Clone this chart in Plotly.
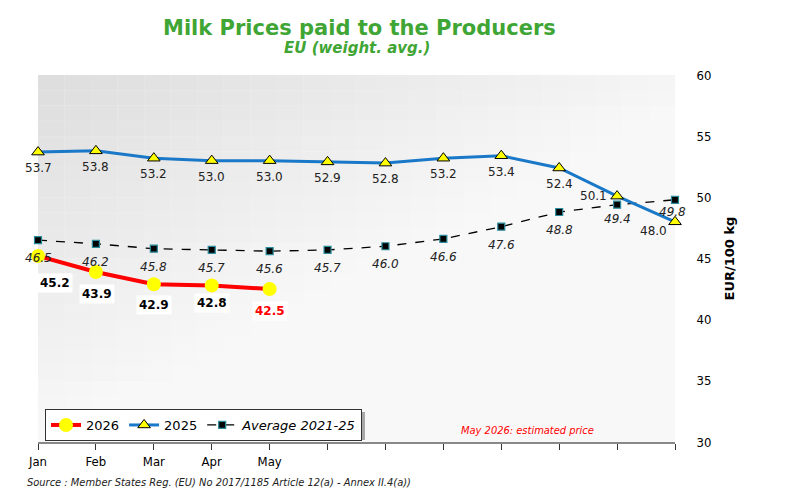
import plotly.graph_objects as go

months = ["Jan", "Feb", "Mar", "Apr", "May", "Jun", "Jul", "Aug", "Sep", "Oct", "Nov", "Dec"]
tick_labels = ["Jan", "Feb", "Mar", "Apr", "May", "", "", "", "", "", "", ""]
y2026 = [45.2, 43.9, 42.9, 42.8, 42.5]
y2025 = [53.7, 53.8, 53.2, 53.0, 53.0, 52.9, 52.8, 53.2, 53.4, 52.4, 50.1, 48.0]
yavg = [46.5, 46.2, 45.8, 45.7, 45.6, 45.7, 46.0, 46.6, 47.6, 48.8, 49.4, 49.8]

COND = "DejaVu Sans Condensed, Liberation Sans Narrow, sans-serif"
SANS = "DejaVu Sans, Verdana, sans-serif"
GREEN = "#3fa535"

fig = go.Figure()

# background diagonal gradient (plot area)
nx, ny = 24, 24
for i in range(nx):
    for j in range(ny):
        t = ((i + 0.5) / nx) * 0.9 + ((j + 0.5) / ny) * 1.0
        t = min(t, 1.0)
        c = int(round(221 + (248 - 221) * t))
        fig.add_shape(type="rect", xref="x domain", yref="y domain",
                      x0=i / nx, x1=(i + 1) / nx, y0=1 - (j + 1) / ny, y1=1 - j / ny,
                      fillcolor=f"rgb({c},{c},{c})", line_width=0, layer="below")

fig.add_trace(go.Scatter(
    x=months, y=yavg, name="<i>Average 2021-25</i>", mode="lines+markers",
    line=dict(color="black", width=1.3, dash="dash"),
    marker=dict(symbol="square", size=7, color="black", line=dict(color="#2b8c9c", width=1.2)),
    cliponaxis=False))
fig.add_trace(go.Scatter(
    x=months, y=y2025, name="2025", mode="lines+markers",
    line=dict(color="#1a78c8", width=3),
    marker=dict(symbol="triangle-up", size=11, color="#ffff00", line=dict(color="black", width=1)),
    cliponaxis=False))
fig.add_trace(go.Scatter(
    x=months[:5], y=y2026, name="2026", mode="lines+markers",
    line=dict(color="#ff0000", width=4),
    marker=dict(symbol="circle", size=14, color="#ffff00", line=dict(width=0)),
    cliponaxis=False))

# labels 2025
shift25 = {10: (-24, 0), 11: (-22, -9)}
for i, v in enumerate(y2025):
    dx, dy = shift25.get(i, (0, -16))
    fig.add_annotation(x=months[i], y=v, text=f"{v:.1f}", showarrow=False,
                       xshift=dx, yshift=dy, font=dict(family=SANS, size=12, color="#222"))
# labels avg
shiftavg = {10: (0, -14), 11: (-3, -12)}
for i, v in enumerate(yavg):
    dx, dy = shiftavg.get(i, (0, -18))
    fig.add_annotation(x=months[i], y=v, text=f"<i>{v:.1f}</i>", showarrow=False,
                       xshift=dx, yshift=dy, font=dict(family=SANS, size=12, color="#222"))
# labels 2026
shift26 = [(17, -27), (1, -22), (0, -21), (0, -18), (0, -22)]
for i, v in enumerate(y2026):
    dx, dy = shift26[i]
    col = "#ff0000" if i == 4 else "black"
    fig.add_annotation(x=months[i], y=v, text=f"<b>{v:.1f}</b>", showarrow=False,
                       xshift=dx, yshift=dy, bgcolor="white", borderpad=2,
                       font=dict(family=SANS, size=12, color=col))

# titles
fig.add_annotation(xref="paper", yref="paper", x=(359 - 38) / 637, y=1 + (75 - 28) / 367,
                   yanchor="middle", text="<b>Milk Prices paid to the Producers</b>", showarrow=False,
                   font=dict(family=SANS, size=21, color=GREEN))
fig.add_annotation(xref="paper", yref="paper", x=(357 - 38) / 637, y=1 + (75 - 48) / 367,
                   yanchor="middle", text="<b><i>EU (weight. avg.)</i></b>", showarrow=False,
                   font=dict(family=SANS, size=15, color=GREEN))
fig.add_annotation(xref="paper", yref="paper", x=(596 - 38) / 637, y=(442 - 430) / 367,
                   yanchor="middle", text="<i>May 2026: estimated price</i>", showarrow=False,
                   font=dict(family=COND, size=11, color="#ff0000"))
fig.add_annotation(xref="paper", yref="paper", x=(25 - 38) / 637, xanchor="left",
                   y=(442 - 482) / 367, yanchor="middle",
                   text="<i>Source : Member States Reg. (EU) No 2017/1185 Article 12(a) - Annex II.4(a))</i>",
                   showarrow=False, font=dict(family=COND, size=11, color="#222"))

# legend drop shadow (drawn below the legend box)
fig.add_shape(type="rect", xref="paper", yref="paper",
              x0=(49 - 38) / 637, x1=(365 - 38) / 637,
              y0=(442 - 440) / 367, y1=(442 - 412) / 367,
              fillcolor="#a8a8a8", line_width=0, layer="above")

fig.update_layout(
    width=786, height=494,
    margin=dict(l=38, r=111, t=75, b=52),
    paper_bgcolor="white", plot_bgcolor="#f4f4f4",
    showlegend=True,
    legend=dict(orientation="h", x=(45 - 38) / 637, y=(442 - 409) / 367,
                xanchor="left", yanchor="top", bgcolor="white",
                bordercolor="#333", borderwidth=1,
                font=dict(family=SANS, size=13, color="black"),
                traceorder="reversed", itemwidth=30, tracegroupgap=0),
    xaxis=dict(type="category", range=[0, 11], tickvals=months, ticktext=tick_labels,
               showgrid=False, zeroline=False, showline=True, linecolor="#888", linewidth=2,
               ticks="outside", ticklen=6, tickcolor="#333",
               tickfont=dict(family=COND, size=13, color="black")),
    yaxis=dict(side="right", range=[30, 60], dtick=5, showgrid=False, zeroline=False,
               showline=False, ticks="outside", ticklen=18, tickcolor="rgba(0,0,0,0)",
               tickfont=dict(family=COND, size=13, color="black"),
               title=dict(text="<b>EUR/100 kg</b>", standoff=14,
                          font=dict(family=SANS, size=13, color="black"))),
)

fig.write_html("out.html")
